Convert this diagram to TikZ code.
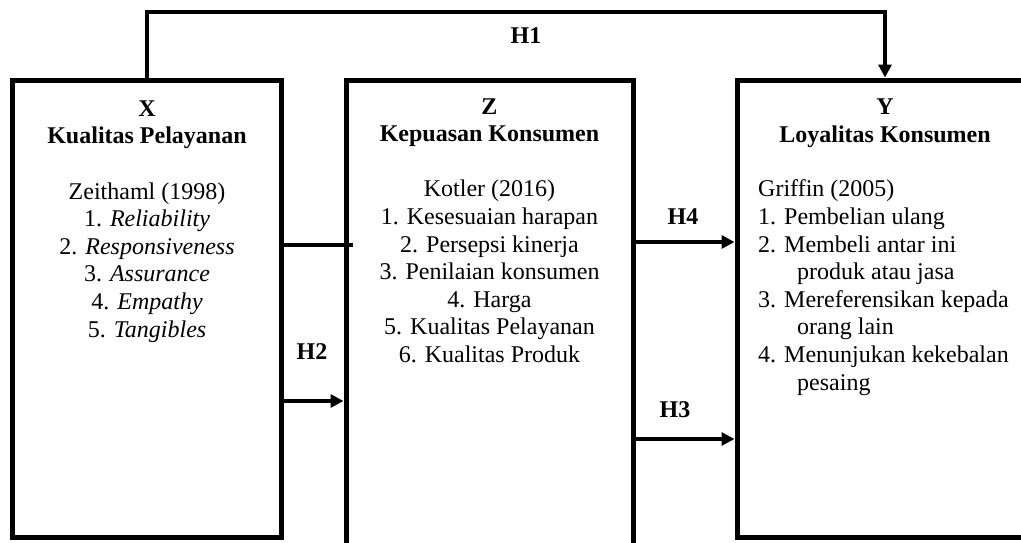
\documentclass[tikz,border=0pt]{standalone}
\usepackage{fontspec}
\setmainfont{Liberation Serif}
\usetikzlibrary{arrows.meta}
\tikzset{
	kotak/.style={draw, rectangle, line width=5pt, inner sep=0pt},
	isi/.style={align=center, inner sep=0pt, font=\fontsize{24}{27.6}\selectfont},
	garis/.style={line width=4pt},
	panah/.style={line width=4pt, -{Triangle[length=13pt,width=13pt]}},
	hip/.style={inner sep=0pt, font=\fontsize{24}{27.6}\selectfont\bfseries}
}

\begin{document}
\begin{tikzpicture}[x=1pt, y=-1pt]
			%%%%% START %%%%%
			
			\useasboundingbox (0,0) rectangle (1021,542);
			\clip (0,0) rectangle (1021,542);
			
			\node[kotak, minimum width=268.5pt, minimum height=457pt] (X) at (146.75, 308.5) {};
			\node[kotak, minimum width=287pt, minimum height=480pt] (Z) at (489.5, 320) {};
			\node[kotak, minimum width=296pt, minimum height=457pt] (Y) at (885, 308.5) {};
			
			% base = last line
			\node[isi, anchor=base] (tx) at (147, 337) {\textbf{X}\\\textbf{Kualitas Pelayanan}\\[27.6pt]Zeithaml (1998)\\1. \textit{Reliability}\\2. \textit{Responsiveness}\\3. \textit{Assurance}\\4. \textit{Empathy}\\5. \textit{Tangibles}};
			
			\node[isi, anchor=base] (tz) at (489.5, 362.5) {\textbf{Z}\\\textbf{Kepuasan Konsumen}\\[27.6pt]Kotler (2016)\\1. Kesesuaian harapan\\2. Persepsi kinerja\\3. Penilaian konsumen\\4. Harga\\5. Kualitas Pelayanan\\6. Kualitas Produk};
			
			\node[isi, anchor=base] (ty) at (885, 142) {\textbf{Y}\\\textbf{Loyalitas Konsumen}};
			\node[isi, align=left, anchor=base west] (ly) at (758, 390) {Griffin (2005)\\1. Pembelian ulang\\2. Membeli antar ini\\\hspace*{39pt}produk atau jasa\\3. Mereferensikan kepada\\\hspace*{39pt}orang lain\\4. Menunjukan kekebalan\\\hspace*{39pt}pesaing};
			
			% hubungan
			\draw[panah] (X.north) -- ++(0,-65.5) -| (Y.north);
			\node[hip] (h1) at (526, 36) {H1};
			
			\coordinate (zx) at (353, 245);
			\draw[garis] (X.east |- zx) -- (zx);
			
			\coordinate (h2) at (312, 401);
			\draw[panah] (X.east |- h2) -- (Z.west |- h2);
			\node[hip] (lh2) at (312, 352) {H2};
			
			\coordinate (h4) at (683, 242);
			\draw[panah] (Z.east |- h4) -- (Y.west |- h4);
			\node[hip] (lh4) at (683, 217) {H4};
			
			\coordinate (h3) at (675, 439);
			\draw[panah] (Z.east |- h3) -- (Y.west |- h3);
			\node[hip] (lh3) at (675, 410) {H3};
			
			%%%%% END %%%%%
\end{tikzpicture}
\end{document}
